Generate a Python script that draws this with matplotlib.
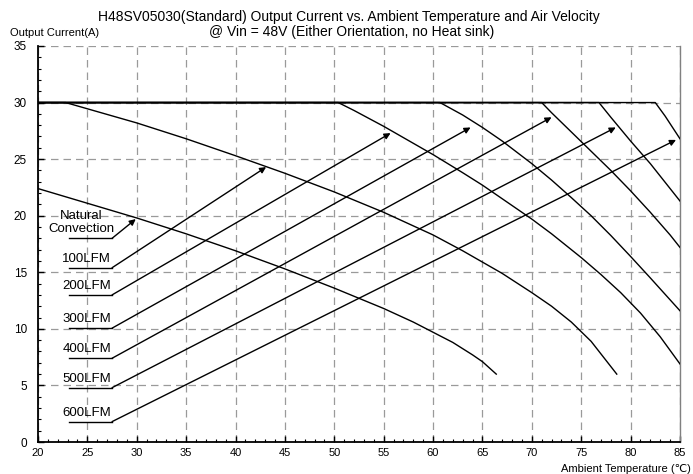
import matplotlib
matplotlib.use("Agg")
import matplotlib.pyplot as plt
from matplotlib.ticker import MultipleLocator

plt.rcParams['font.family'] = ['Liberation Sans', 'DejaVu Sans']

# derating curves (ambient temperature in C, output current in A)
nc_t = [20, 25, 30, 35, 40, 45, 50, 55, 58, 60, 62, 64, 65, 66.4]
nc_a = [22.4, 21.1, 19.8, 18.4, 16.9, 15.3, 13.6, 11.8, 10.6, 9.7, 8.8, 7.7, 7.1, 6.0]

lfm100_t = [20, 22.8, 25, 30, 35, 40, 45, 50, 55, 60, 63, 65, 67, 70, 72, 74, 76, 78.6]
lfm100_a = [30, 30, 29.45, 28.2, 26.8, 25.3, 23.75, 22.1, 20.3, 18.3, 16.9, 15.9, 14.9, 13.2, 12.0, 10.6, 8.9, 6.0]

lfm200_t = [20, 50.4, 52, 55, 58, 60, 63, 65, 68, 70, 72, 75, 77, 79, 81, 83, 85]
lfm200_a = [30, 30, 29.3, 27.9, 26.4, 25.4, 23.8, 22.7, 20.9, 19.7, 18.4, 16.3, 14.8, 13.2, 11.4, 9.3, 6.9]

lfm300_t = [20, 60.7, 63, 65, 67, 70, 72, 74, 76, 78, 80, 82, 85]
lfm300_a = [30, 30, 28.9, 27.8, 26.6, 24.6, 23.15, 21.6, 20.0, 18.25, 16.4, 14.5, 11.6]

lfm400_t = [20, 71.0, 72, 74, 76, 78, 80, 82, 84, 85]
lfm400_a = [30, 30, 29.1, 27.4, 25.7, 24.0, 22.2, 20.3, 18.3, 17.2]

lfm500_t = [20, 76.8, 78, 80, 82, 84, 85]
lfm500_a = [30, 30, 28.7, 26.6, 24.6, 22.4, 21.3]

lfm600_t = [20, 82.5, 83.5, 85]
lfm600_a = [30, 30, 28.8, 26.8]

# labels, leader lines and arrow tips
labels = ['Natural\nConvection', '100LFM', '200LFM', '300LFM', '400LFM', '500LFM', '600LFM']
leader_y = [18.0, 15.4, 13.0, 10.06, 7.4, 4.8, 1.8]
tip_t = [29.9, 43.1, 55.7, 63.8, 72.0, 78.5, 84.6]
tip_a = [19.7, 24.3, 27.3, 27.8, 28.7, 27.8, 26.7]

fig = plt.figure(figsize=(6.93, 4.74), dpi=100)
ax = fig.add_axes([0.0548, 0.0675, 0.9264, 0.8355])

for t, a in [(nc_t, nc_a), (lfm100_t, lfm100_a), (lfm200_t, lfm200_a),
             (lfm300_t, lfm300_a), (lfm400_t, lfm400_a), (lfm500_t, lfm500_a),
             (lfm600_t, lfm600_a)]:
    ax.plot(t, a, color='black', linewidth=1.0, zorder=3)

for i in range(len(labels)):
    ly = leader_y[i]
    ax.plot([23.1, 27.5], [ly, ly], color='black', linewidth=1.0, zorder=3)
    ax.annotate('', xy=(tip_t[i], tip_a[i]), xytext=(27.5, ly),
                arrowprops=dict(arrowstyle='-|>', color='black', lw=1.0,
                                mutation_scale=9, shrinkA=0, shrinkB=0),
                zorder=4)
    if i == 0:
        ax.text(24.4, ly + 1.4, labels[i], ha='center', va='center',
                fontsize=9.5, linespacing=1.1)
    else:
        ax.text(24.95, ly + 0.8, labels[i], ha='center', va='center', fontsize=9.5)

ax.set_xlim(20, 85)
ax.set_ylim(0, 35)
ax.xaxis.set_major_locator(MultipleLocator(5))
ax.xaxis.set_minor_locator(MultipleLocator(1))
ax.yaxis.set_major_locator(MultipleLocator(5))
ax.yaxis.set_minor_locator(MultipleLocator(1))
ax.grid(True, which='major', color='#9a9a9a', linestyle=(0, (6, 4)), linewidth=0.9)
ax.set_axisbelow(True)

ax.tick_params(which='both', direction='in', top=False, right=False, labelsize=8.5)
ax.tick_params(axis='y', pad=8)
ax.tick_params(axis='x', labelsize=8, pad=4)
ax.tick_params(which='major', length=4, width=1)
ax.tick_params(which='minor', length=2.5, width=0.8)

ax.spines['top'].set_visible(False)
ax.spines['right'].set_color('#808080')
ax.spines['right'].set_linewidth(1.0)
ax.spines['left'].set_linewidth(1.3)
ax.spines['bottom'].set_linewidth(1.3)

fig.text(0.503, 0.965, 'H48SV05030(Standard) Output Current vs. Ambient Temperature and Air Velocity',
         ha='center', va='center', fontsize=10)
fig.text(0.507, 0.932, '@ Vin = 48V (Either Orientation, no Heat sink)',
         ha='center', va='center', fontsize=10)
fig.text(0.015, 0.931, 'Output Current(A)', ha='left', va='center', fontsize=8)
fig.text(0.997, 0.0, 'Ambient Temperature (\u2103)', ha='right', va='bottom', fontsize=8)

fig.savefig('out.png', dpi=100)
